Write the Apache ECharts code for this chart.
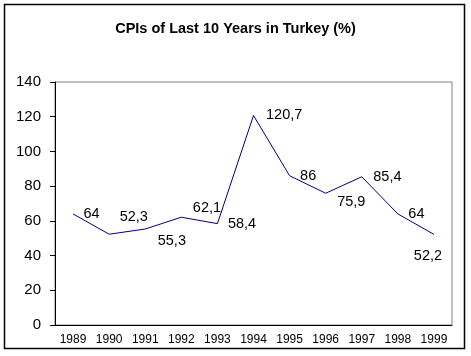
<!DOCTYPE html>
<html>
<head>
<meta charset="utf-8">
<script src="https://cdn.jsdelivr.net/npm/echarts@6/dist/echarts.min.js"></script>
<style>
html,body{margin:0;padding:0;background:#fff;}
#chart{width:471px;height:356px;}
</style>
</head>
<body>
<div id="chart"></div>
<script>
const titleText = 'CPIs of Last 10 Years in Turkey (%)';
const years = ['1989','1990','1991','1992','1993','1994','1995','1996','1997','1998','1999'];
const cpi = [64, 52.3, 55.3, 62.1, 58.4, 120.7, 86, 75.9, 85.4, 64, 52.2];
// label placement tweaks (pixel offsets [dx, dy]) per point
const labelOffsets = [[0,0],[0,-17],[2,12],[1,-9],[0,0],[2,0],[0,0],[1,9],[1,0],[0,0],[0,0]];

const font = '"Liberation Sans", Arial, sans-serif';
const chart = echarts.init(document.getElementById('chart'), null, {renderer:'canvas'});
const data = cpi.map((v, i) => {
  if (i === cpi.length - 1) {
    return {value: v, label: {show: true, position: 'bottom', distance: 14, offset: [-6, 0]}};
  }
  return {value: v, label: {show: true, position: 'right', distance: 10, offset: labelOffsets[i]}};
});
chart.setOption({
  animation: false,
  backgroundColor: '#fff',
  title: {
    text: titleText,
    left: 'center',
    top: 16,
    textStyle: {fontFamily: font, fontSize: 14.5, fontWeight: 'bold', color: '#000'}
  },
  graphic: [{
    type: 'rect',
    shape: {x: 4.5, y: 4.5, width: 460, height: 344},
    style: {fill: 'none', stroke: '#000', lineWidth: 1.5},
    silent: true, z: -1
  }],
  grid: {
    left: 55, top: 82, right: 19, bottom: 31,
    show: true, borderColor: '#808080', borderWidth: 1, backgroundColor: 'transparent'
  },
  xAxis: {
    type: 'category',
    data: years,
    boundaryGap: true,
    axisLine: {lineStyle: {color: '#000', width: 1}},
    axisTick: {show: false},
    axisLabel: {fontFamily: font, fontSize: 12, color: '#000', margin: 9, interval: 0},
    splitLine: {show: false}
  },
  yAxis: {
    type: 'value',
    min: 0, max: 140, interval: 20,
    axisLine: {show: true, lineStyle: {color: '#000', width: 1}},
    axisTick: {show: true, inside: false, length: 5, lineStyle: {color: '#000'}},
    axisLabel: {fontFamily: font, fontSize: 15, color: '#000', margin: 14},
    splitLine: {show: false}
  },
  series: [{
    type: 'line',
    data: data,
    symbol: 'circle',
    symbolSize: 1,
    showSymbol: true,
    itemStyle: {color: 'rgba(0,0,0,0)', borderWidth: 0},
    lineStyle: {color: '#000080', width: 1},
    label: {
      show: true,
      fontFamily: font,
      fontSize: 14.5,
      color: '#000',
      formatter: p => String(p.value).replace('.', ',')
    }
  }]
});
</script>
</body>
</html>
